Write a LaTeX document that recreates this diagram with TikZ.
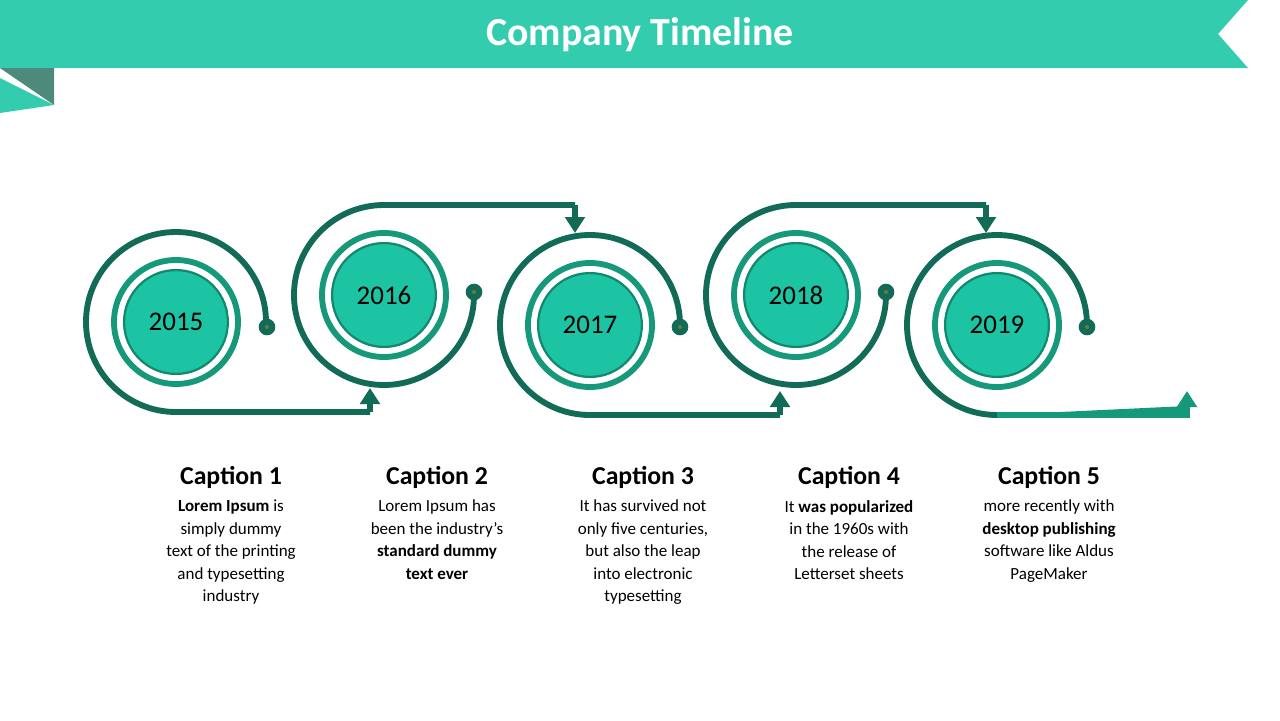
\documentclass[tikz,border=0pt]{standalone}
\usepackage{fontspec}
\setmainfont{Carlito}
\usetikzlibrary{arrows.meta}
\definecolor{band}{HTML}{33CCAE}
\definecolor{fold}{HTML}{4E8A7B}
\definecolor{spiral}{HTML}{126B57}
\definecolor{ring}{HTML}{16997A}
\definecolor{disc}{HTML}{1DC4A4}
\definecolor{dotc}{HTML}{6B7A3A}
\tikzset{
  pathline/.style={draw=spiral, line width=5pt},
  arrowline/.style={pathline, -{Triangle[length=0.48cm,width=0.58cm]}},
  ringline/.style={draw=ring, line width=5pt},
  yeardisc/.style={circle, fill=disc, minimum size=3.18cm, inner sep=0pt, font=\fontsize{23}{26}\selectfont,
    path picture={\draw[spiral!70!black, line width=2pt, opacity=0.5] (path picture bounding box.center) circle (1.56cm);}},
  enddot/.style={circle, fill=spiral, minimum size=0.5cm, inner sep=0pt,
    path picture={\fill[dotc] (path picture bounding box.center) circle (0.06cm);}},
  captiontitle/.style={font=\fontsize{22}{26}\bfseries\selectfont},
  captiontext/.style={align=center, font=\fontsize{14.5}{19.2}\selectfont}
}
\begin{document}
\begin{tikzpicture}[x=0.03cm, y=-0.03cm]
  \useasboundingbox (0,0) rectangle (1280,720);
  \fill[white] (0,0) rectangle (1280,720);

  % Header
  \fill[band] (0,0) -- (1248,0) -- (1218,34) -- (1248,68) -- (0,68) -- cycle;
  \fill[fold] (0,68) -- (54,68) -- (54,105) -- cycle;
  \fill[band] (0,78) -- (54,105) -- (0,113) -- cycle;
  \node[text=white, font=\fontsize{34}{40}\bfseries\selectfont] (title) at (640,35) {Company Timeline};

  % Year discs
  \node[yeardisc] (y2015) at (176,322) {2015};
  \node[yeardisc] (y2016) at (384,295) {2016};
  \node[yeardisc] (y2017) at (590,325) {2017};
  \node[yeardisc] (y2018) at (796,295) {2018};
  \node[yeardisc] (y2019) at (997,325) {2019};

  % Rings
  \foreach \n in {2015,2016,2017,2018,2019}
    \draw[ringline] (y\n.center) circle (62);

  % Spirals
  \draw[pathline] (y2015.center) ++(90,3) -- ++(0,-3) arc (0:-270:90) -- ++(194,0) coordinate (a1);
  \draw[arrowline] (a1) -- ++(0,-24);
  \draw[pathline] (y2016.center) ++(90,-3) -- ++(0,3) arc (0:270:90) -- ++(191,0) coordinate (a2);
  \draw[arrowline] (a2) -- ++(0,28);
  \draw[pathline] (y2017.center) ++(90,3) -- ++(0,-3) arc (0:-270:90) -- ++(190,0) coordinate (a3);
  \draw[arrowline] (a3) -- ++(0,-24);
  \draw[pathline] (y2018.center) ++(90,-3) -- ++(0,3) arc (0:270:90) -- ++(190,0) coordinate (a4);
  \draw[arrowline] (a4) -- ++(0,28);
  \draw[pathline] (y2019.center) ++(90,3) -- ++(0,-3) arc (0:-270:90) coordinate (a5);
  \draw[arrowline, draw=ring, fill=ring] (a5) -- ++(190,0) -- ++(0,-24);

  % End dots
  \node[enddot] (d1) at (267,327) {};
  \node[enddot] (d2) at (474,292) {};
  \node[enddot] (d3) at (680,327) {};
  \node[enddot] (d4) at (886,292) {};
  \node[enddot] (d5) at (1087,327) {};

  % Captions
  \node[captiontitle] (c1) at (231,477) {Caption 1};
  \node[captiontitle] (c2) at (437,477) {Caption 2};
  \node[captiontitle] (c3) at (643,477) {Caption 3};
  \node[captiontitle] (c4) at (849,477) {Caption 4};
  \node[captiontitle] (c5) at (1049,477) {Caption 5};
  \node[captiontext, anchor=north] at (231,496) {\textbf{Lorem Ipsum} is\\simply dummy\\text of the printing\\and typesetting\\industry};
  \node[captiontext, anchor=north] at (437,496) {Lorem Ipsum has\\been the industry's\\\textbf{standard dummy}\\\textbf{text ever}};
  \node[captiontext, anchor=north] at (643,496) {It has survived not\\only five centuries,\\but also the leap\\into electronic\\typesetting};
  \node[captiontext, anchor=north] at (849,496) {It \textbf{was popularized}\\in the 1960s with\\the release of\\Letterset sheets};
  \node[captiontext, anchor=north] at (1049,496) {more recently with\\\textbf{desktop publishing}\\software like Aldus\\PageMaker};
\end{tikzpicture}
\end{document}
